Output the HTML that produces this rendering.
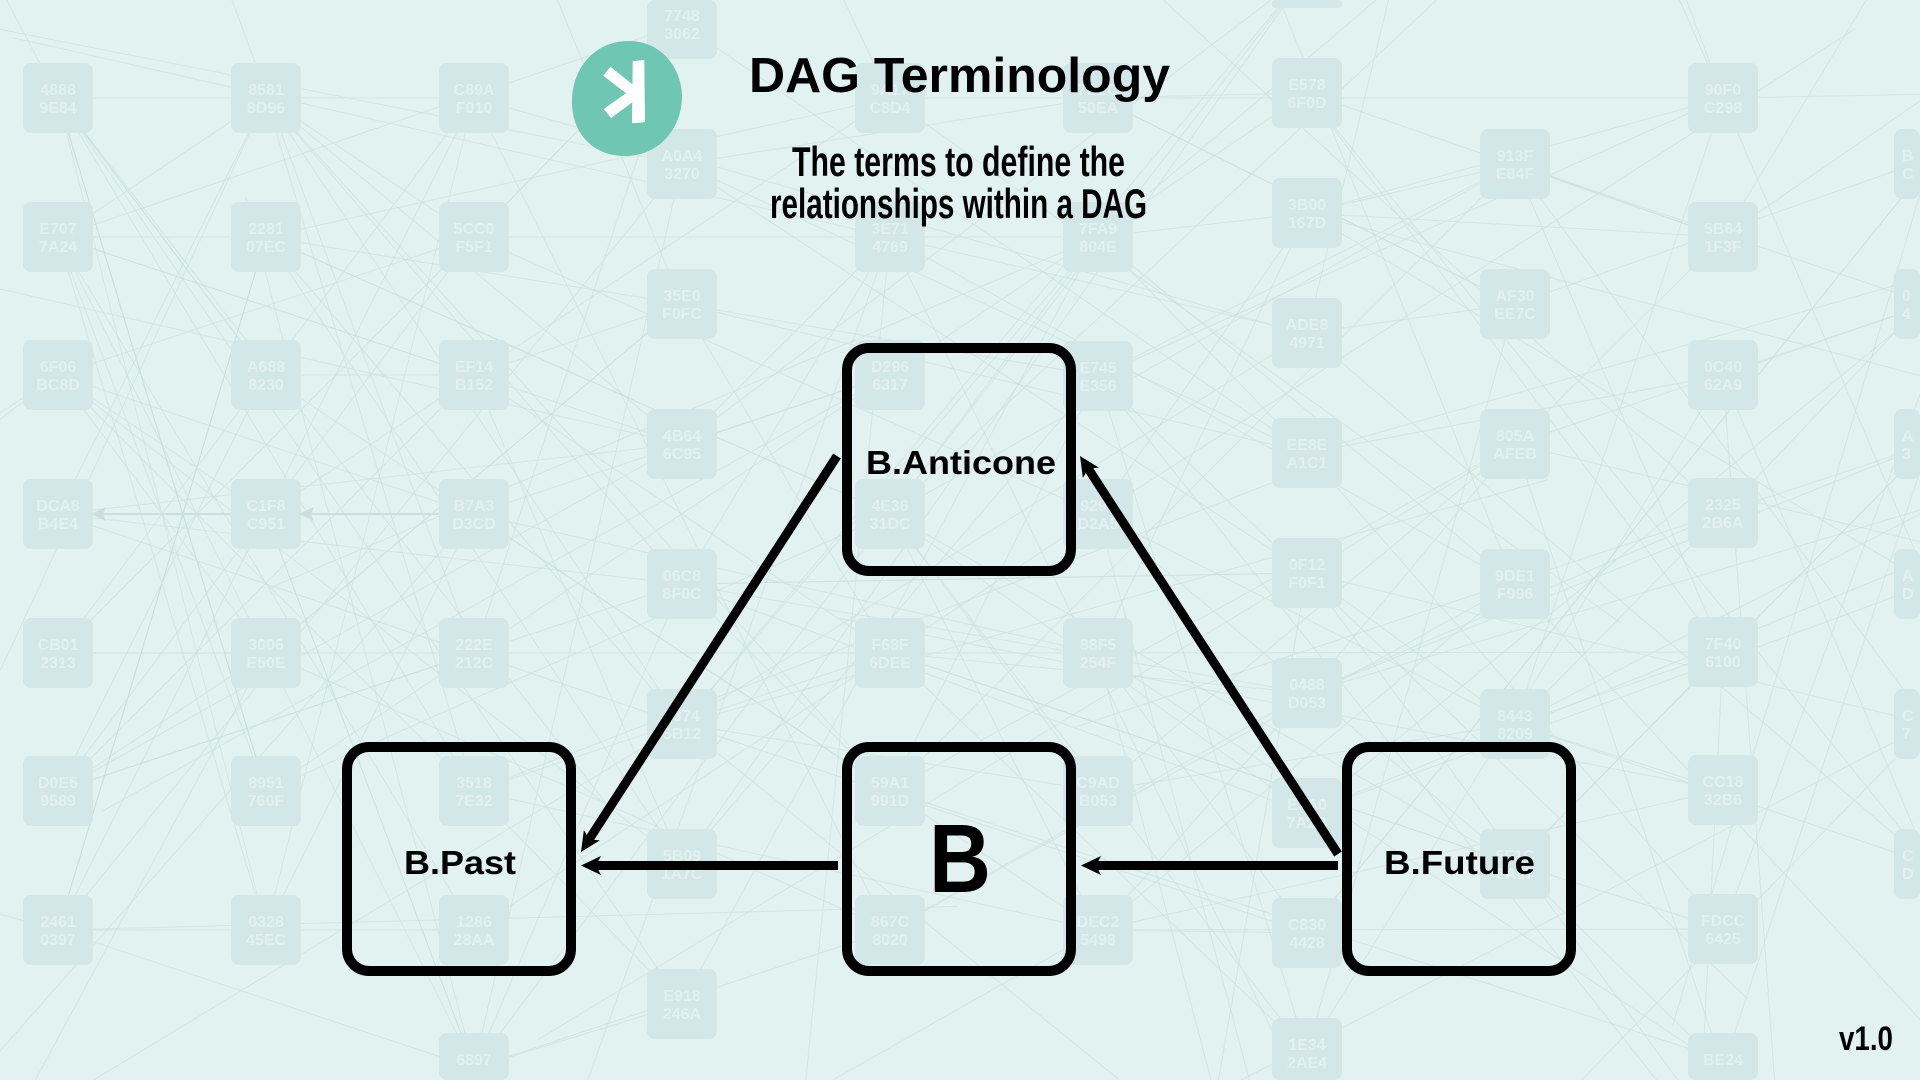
<!DOCTYPE html>
<html>
<head>
<meta charset="utf-8">
<title>DAG Terminology</title>
<style>
  html,body{margin:0;padding:0;background:#e1f2f0;width:1920px;height:1080px;overflow:hidden;}
  svg{display:block;position:absolute;left:0;top:0;}
  .n rect{fill:#d3e7e8;}
  .n text{fill:#e2f0f0;font-family:"Liberation Sans",sans-serif;font-weight:bold;font-size:16px;text-anchor:middle;}
  .lbl{font-family:"Liberation Sans",sans-serif;font-weight:bold;fill:#000;}
</style>
</head>
<body>
<svg width="1920" height="1080" viewBox="0 0 1920 1080" xmlns="http://www.w3.org/2000/svg" overflow="hidden">
  <rect width="1920" height="1080" fill="#e1f2f0"/>
  <g id="edges" stroke="#c9dedc" stroke-width="1" stroke-opacity="0.6" fill="none"></g>

  <!-- background block grid -->
  <g id="nodes">
    <!-- col 58 -->
    <g class="n" transform="translate(58,98)"><rect x="-35" y="-35" width="70" height="70" rx="8"/><text y="-3">4888</text><text y="15">9E84</text></g>
    <g class="n" transform="translate(58,237)"><rect x="-35" y="-35" width="70" height="70" rx="8"/><text y="-3">E707</text><text y="15">7A24</text></g>
    <g class="n" transform="translate(58,375)"><rect x="-35" y="-35" width="70" height="70" rx="8"/><text y="-3">6F06</text><text y="15">BC8D</text></g>
    <g class="n" transform="translate(58,514)"><rect x="-35" y="-35" width="70" height="70" rx="8"/><text y="-3">DCA8</text><text y="15">B4E4</text></g>
    <g class="n" transform="translate(58,653)"><rect x="-35" y="-35" width="70" height="70" rx="8"/><text y="-3">CB01</text><text y="15">2313</text></g>
    <g class="n" transform="translate(58,791)"><rect x="-35" y="-35" width="70" height="70" rx="8"/><text y="-3">D0E5</text><text y="15">9589</text></g>
    <g class="n" transform="translate(58,930)"><rect x="-35" y="-35" width="70" height="70" rx="8"/><text y="-3">2461</text><text y="15">0397</text></g>
    <!-- col 266 -->
    <g class="n" transform="translate(266,98)"><rect x="-35" y="-35" width="70" height="70" rx="8"/><text y="-3">8581</text><text y="15">8D96</text></g>
    <g class="n" transform="translate(266,237)"><rect x="-35" y="-35" width="70" height="70" rx="8"/><text y="-3">2281</text><text y="15">07EC</text></g>
    <g class="n" transform="translate(266,375)"><rect x="-35" y="-35" width="70" height="70" rx="8"/><text y="-3">A688</text><text y="15">8230</text></g>
    <g class="n" transform="translate(266,514)"><rect x="-35" y="-35" width="70" height="70" rx="8"/><text y="-3">C1F8</text><text y="15">C951</text></g>
    <g class="n" transform="translate(266,653)"><rect x="-35" y="-35" width="70" height="70" rx="8"/><text y="-3">3006</text><text y="15">E50E</text></g>
    <g class="n" transform="translate(266,791)"><rect x="-35" y="-35" width="70" height="70" rx="8"/><text y="-3">8951</text><text y="15">760F</text></g>
    <g class="n" transform="translate(266,930)"><rect x="-35" y="-35" width="70" height="70" rx="8"/><text y="-3">0328</text><text y="15">45EC</text></g>
    <!-- col 474 -->
    <g class="n" transform="translate(474,98)"><rect x="-35" y="-35" width="70" height="70" rx="8"/><text y="-3">C89A</text><text y="15">F010</text></g>
    <g class="n" transform="translate(474,237)"><rect x="-35" y="-35" width="70" height="70" rx="8"/><text y="-3">5CC0</text><text y="15">F5F1</text></g>
    <g class="n" transform="translate(474,375)"><rect x="-35" y="-35" width="70" height="70" rx="8"/><text y="-3">EF14</text><text y="15">B152</text></g>
    <g class="n" transform="translate(474,514)"><rect x="-35" y="-35" width="70" height="70" rx="8"/><text y="-3">B7A3</text><text y="15">D3CD</text></g>
    <g class="n" transform="translate(474,653)"><rect x="-35" y="-35" width="70" height="70" rx="8"/><text y="-3">222E</text><text y="15">212C</text></g>
    <g class="n" transform="translate(474,791)"><rect x="-35" y="-35" width="70" height="70" rx="8"/><text y="-3">3518</text><text y="15">7E32</text></g>
    <g class="n" transform="translate(474,930)"><rect x="-35" y="-35" width="70" height="70" rx="8"/><text y="-3">1286</text><text y="15">28AA</text></g>
    <g class="n" transform="translate(474,1068)"><rect x="-35" y="-35" width="70" height="47" rx="8"/><text y="-3">6897</text></g>
    <!-- col 682 -->
    <g class="n" transform="translate(682,24)"><rect x="-35" y="-24" width="70" height="59" rx="8"/><text y="-3">7748</text><text y="15">3062</text></g>
    <g class="n" transform="translate(682,164)"><rect x="-35" y="-35" width="70" height="70" rx="8"/><text y="-3">A0A4</text><text y="15">3270</text></g>
    <g class="n" transform="translate(682,304)"><rect x="-35" y="-35" width="70" height="70" rx="8"/><text y="-3">35E0</text><text y="15">F0FC</text></g>
    <g class="n" transform="translate(682,444)"><rect x="-35" y="-35" width="70" height="70" rx="8"/><text y="-3">4B64</text><text y="15">6C95</text></g>
    <g class="n" transform="translate(682,584)"><rect x="-35" y="-35" width="70" height="70" rx="8"/><text y="-3">06C8</text><text y="15">8F0C</text></g>
    <g class="n" transform="translate(682,724)"><rect x="-35" y="-35" width="70" height="70" rx="8"/><text y="-3">5374</text><text y="15">5B12</text></g>
    <g class="n" transform="translate(682,864)"><rect x="-35" y="-35" width="70" height="70" rx="8"/><text y="-3">5B09</text><text y="15">1A7C</text></g>
    <g class="n" transform="translate(682,1004)"><rect x="-35" y="-35" width="70" height="70" rx="8"/><text y="-3">E918</text><text y="15">246A</text></g>
    <!-- col 890 -->
    <g class="n" transform="translate(890,98)"><rect x="-35" y="-35" width="70" height="70" rx="8"/><text y="-3">9A17</text><text y="15">C8D4</text></g>
    <g class="n" transform="translate(890,237)"><rect x="-35" y="-35" width="70" height="70" rx="8"/><text y="-3">3E71</text><text y="15">4769</text></g>
    <g class="n" transform="translate(890,375)"><rect x="-35" y="-35" width="70" height="70" rx="8"/><text y="-3">D296</text><text y="15">6317</text></g>
    <g class="n" transform="translate(890,514)"><rect x="-35" y="-35" width="70" height="70" rx="8"/><text y="-3">4E36</text><text y="15">31DC</text></g>
    <g class="n" transform="translate(890,653)"><rect x="-35" y="-35" width="70" height="70" rx="8"/><text y="-3">F68F</text><text y="15">6DEE</text></g>
    <g class="n" transform="translate(890,791)"><rect x="-35" y="-35" width="70" height="70" rx="8"/><text y="-3">59A1</text><text y="15">991D</text></g>
    <g class="n" transform="translate(890,930)"><rect x="-35" y="-35" width="70" height="70" rx="8"/><text y="-3">867C</text><text y="15">8020</text></g>
    <!-- col 1098 -->
    <g class="n" transform="translate(1098,98)"><rect x="-35" y="-35" width="70" height="70" rx="8"/><text y="-3">7B2C</text><text y="15">50EA</text></g>
    <g class="n" transform="translate(1098,237)"><rect x="-35" y="-35" width="70" height="70" rx="8"/><text y="-3">7FA9</text><text y="15">804E</text></g>
    <g class="n" transform="translate(1098,376)"><rect x="-35" y="-35" width="70" height="70" rx="8"/><text y="-3">E745</text><text y="15">E356</text></g>
    <g class="n" transform="translate(1098,514)"><rect x="-35" y="-35" width="70" height="70" rx="8"/><text y="-3">9294</text><text y="15">D2A5</text></g>
    <g class="n" transform="translate(1098,653)"><rect x="-35" y="-35" width="70" height="70" rx="8"/><text y="-3">88F5</text><text y="15">254F</text></g>
    <g class="n" transform="translate(1098,791)"><rect x="-35" y="-35" width="70" height="70" rx="8"/><text y="-3">C9AD</text><text y="15">B053</text></g>
    <g class="n" transform="translate(1098,930)"><rect x="-35" y="-35" width="70" height="70" rx="8"/><text y="-3">DEC2</text><text y="15">5498</text></g>
    <!-- col 1307 -->
    <g class="n" transform="translate(1307,-27)"><rect x="-35" y="27" width="70" height="8" rx="3"/></g>
    <g class="n" transform="translate(1307,93)"><rect x="-35" y="-35" width="70" height="70" rx="8"/><text y="-3">E578</text><text y="15">6F0D</text></g>
    <g class="n" transform="translate(1307,213)"><rect x="-35" y="-35" width="70" height="70" rx="8"/><text y="-3">3B00</text><text y="15">167D</text></g>
    <g class="n" transform="translate(1307,333)"><rect x="-35" y="-35" width="70" height="70" rx="8"/><text y="-3">ADE8</text><text y="15">4971</text></g>
    <g class="n" transform="translate(1307,453)"><rect x="-35" y="-35" width="70" height="70" rx="8"/><text y="-3">EE8E</text><text y="15">A1C1</text></g>
    <g class="n" transform="translate(1307,573)"><rect x="-35" y="-35" width="70" height="70" rx="8"/><text y="-3">0F12</text><text y="15">F0F1</text></g>
    <g class="n" transform="translate(1307,693)"><rect x="-35" y="-35" width="70" height="70" rx="8"/><text y="-3">0488</text><text y="15">D053</text></g>
    <g class="n" transform="translate(1307,813)"><rect x="-35" y="-35" width="70" height="70" rx="8"/><text y="-3">E7A0</text><text y="15">7A2B</text></g>
    <g class="n" transform="translate(1307,933)"><rect x="-35" y="-35" width="70" height="70" rx="8"/><text y="-3">C830</text><text y="15">4428</text></g>
    <g class="n" transform="translate(1307,1053)"><rect x="-35" y="-35" width="70" height="62" rx="8"/><text y="-3">1E34</text><text y="15">2AE4</text></g>
    <!-- col 1515 -->
    <g class="n" transform="translate(1515,164)"><rect x="-35" y="-35" width="70" height="70" rx="8"/><text y="-3">913F</text><text y="15">E84F</text></g>
    <g class="n" transform="translate(1515,304)"><rect x="-35" y="-35" width="70" height="70" rx="8"/><text y="-3">AF30</text><text y="15">EE7C</text></g>
    <g class="n" transform="translate(1515,444)"><rect x="-35" y="-35" width="70" height="70" rx="8"/><text y="-3">805A</text><text y="15">AFEB</text></g>
    <g class="n" transform="translate(1515,584)"><rect x="-35" y="-35" width="70" height="70" rx="8"/><text y="-3">9DE1</text><text y="15">F996</text></g>
    <g class="n" transform="translate(1515,724)"><rect x="-35" y="-35" width="70" height="70" rx="8"/><text y="-3">8443</text><text y="15">8209</text></g>
    <g class="n" transform="translate(1515,864)"><rect x="-35" y="-35" width="70" height="70" rx="8"/><text y="-3">5F1C</text><text y="15">3A07</text></g>
    <!-- col 1723 -->
    <g class="n" transform="translate(1723,98)"><rect x="-35" y="-35" width="70" height="70" rx="8"/><text y="-3">90F0</text><text y="15">C298</text></g>
    <g class="n" transform="translate(1723,237)"><rect x="-35" y="-35" width="70" height="70" rx="8"/><text y="-3">5B64</text><text y="15">1F3F</text></g>
    <g class="n" transform="translate(1723,375)"><rect x="-35" y="-35" width="70" height="70" rx="8"/><text y="-3">0C40</text><text y="15">62A9</text></g>
    <g class="n" transform="translate(1723,513)"><rect x="-35" y="-35" width="70" height="70" rx="8"/><text y="-3">2325</text><text y="15">2B6A</text></g>
    <g class="n" transform="translate(1723,652)"><rect x="-35" y="-35" width="70" height="70" rx="8"/><text y="-3">7F40</text><text y="15">6100</text></g>
    <g class="n" transform="translate(1723,790)"><rect x="-35" y="-35" width="70" height="70" rx="8"/><text y="-3">CC18</text><text y="15">32B6</text></g>
    <g class="n" transform="translate(1723,929)"><rect x="-35" y="-35" width="70" height="70" rx="8"/><text y="-3">FDCC</text><text y="15">6425</text></g>
    <g class="n" transform="translate(1723,1068)"><rect x="-35" y="-35" width="70" height="47" rx="8"/><text y="-3">BE24</text></g>
    <!-- col 1929 (partial, clipped at right edge) -->
    <g class="n" transform="translate(1929,164)"><rect x="-35" y="-35" width="26" height="70" rx="8"/><text x="-27" y="-3" style="text-anchor:start">B</text><text x="-27" y="15" style="text-anchor:start">C</text></g>
    <g class="n" transform="translate(1929,304)"><rect x="-35" y="-35" width="26" height="70" rx="8"/><text x="-27" y="-3" style="text-anchor:start">0</text><text x="-27" y="15" style="text-anchor:start">4</text></g>
    <g class="n" transform="translate(1929,444)"><rect x="-35" y="-35" width="26" height="70" rx="8"/><text x="-27" y="-3" style="text-anchor:start">A</text><text x="-27" y="15" style="text-anchor:start">3</text></g>
    <g class="n" transform="translate(1929,584)"><rect x="-35" y="-35" width="26" height="70" rx="8"/><text x="-27" y="-3" style="text-anchor:start">A</text><text x="-27" y="15" style="text-anchor:start">D</text></g>
    <g class="n" transform="translate(1929,724)"><rect x="-35" y="-35" width="26" height="70" rx="8"/><text x="-27" y="-3" style="text-anchor:start">C</text><text x="-27" y="15" style="text-anchor:start">7</text></g>
    <g class="n" transform="translate(1929,864)"><rect x="-35" y="-35" width="26" height="70" rx="8"/><text x="-27" y="-3" style="text-anchor:start">C</text><text x="-27" y="15" style="text-anchor:start">D</text></g>
  </g>

  <!-- background faint arrows -->
  <g stroke="#cadfdd" stroke-width="2" fill="#cadfdd">
    <line x1="231" y1="514" x2="100" y2="514"/>
    <path d="M93,514 L104,509 L102,514 L104,519 Z"/>
    <line x1="439" y1="514" x2="308" y2="514"/>
    <path d="M301,514 L312,509 L310,514 L312,519 Z"/>
  </g>

  <!-- Logo -->
  <g transform="translate(1,-6)">
    <path d="M626,47 C663,46 682,78 681,104 C680,136 657,162 624,162 C591,162 570,138 571,106 C572,74 593,48 626,47 Z" fill="#6fc6b3"/>
    <polygon points="631.7,67.3 643.3,66 644,128.3 631,129.3" fill="#ffffff"/>
    <polygon points="609.3,72.7 637.3,95 637.3,104 610,124 602.7,115 625,99.3 602.3,81.7" fill="#ffffff"/>
  </g>

  <!-- Title -->
  <text class="lbl" x="749" y="92" font-size="49" textLength="421" lengthAdjust="spacingAndGlyphs">DAG Terminology</text>
  <text class="lbl" x="792" y="176" font-size="42" textLength="333" lengthAdjust="spacingAndGlyphs">The terms to define the</text>
  <text class="lbl" x="770" y="218" font-size="42" textLength="377" lengthAdjust="spacingAndGlyphs">relationships within a DAG</text>

  <!-- Main boxes -->
  <g fill="none" stroke="#000" stroke-width="10">
    <rect x="847" y="348" width="224" height="223" rx="22"/>
    <rect x="347" y="747" width="224" height="224" rx="22"/>
    <rect x="847" y="747" width="224" height="224" rx="22"/>
    <rect x="1347" y="747" width="224" height="224" rx="22"/>
  </g>

  <!-- Box labels -->
  <text class="lbl" x="866" y="474" font-size="33" textLength="190" lengthAdjust="spacingAndGlyphs">B.Anticone</text>
  <text class="lbl" x="404" y="874" font-size="33" textLength="112" lengthAdjust="spacingAndGlyphs">B.Past</text>
  <text class="lbl" x="929" y="892" font-size="97" textLength="62" lengthAdjust="spacingAndGlyphs">B</text>
  <text class="lbl" x="1384" y="874" font-size="33" textLength="151" lengthAdjust="spacingAndGlyphs">B.Future</text>

  <!-- Arrows -->
  <g stroke="#000" stroke-width="9" fill="none" stroke-linecap="butt">
    <line x1="838" y1="865.5" x2="595" y2="865.5"/>
    <line x1="1338" y1="865.5" x2="1095" y2="865.5"/>
    <line x1="837" y1="456" x2="588.6" y2="840.2"/>
    <line x1="1338" y1="854" x2="1087.6" y2="467.7"/>
  </g>
  <g fill="#000">
    <path transform="translate(581,865.5) rotate(180)" d="M0,0 L-20,-9.5 L-15,0 L-20,9.5 Z"/>
    <path transform="translate(1081,865.5) rotate(180)" d="M0,0 L-20,-9.5 L-15,0 L-20,9.5 Z"/>
    <path transform="translate(581,852) rotate(122.9)" d="M0,0 L-20,-9.5 L-15,0 L-20,9.5 Z"/>
    <path transform="translate(1080,456) rotate(-122.96)" d="M0,0 L-20,-9.5 L-15,0 L-20,9.5 Z"/>
  </g>

  <!-- version -->
  <text class="lbl" x="1839" y="1050" font-size="34" textLength="54" lengthAdjust="spacingAndGlyphs">v1.0</text>
</svg>
<script>
(function(){
  var s=424242;
  function r(){ s=(s*16807)%2147483647; return s/2147483647; }
  var W=1920,H=1080;
  function clip(x1,y1,x2,y2){
    var dx=x2-x1, dy=y2-y1, t0=0, t1=1;
    var p=[-dx,dx,-dy,dy], q=[x1-0,W-x1,y1-0,H-y1];
    for(var i=0;i<4;i++){
      if(p[i]===0){ if(q[i]<0) return null; }
      else{
        var t=q[i]/p[i];
        if(p[i]<0){ if(t>t1) return null; if(t>t0) t0=t; }
        else { if(t<t0) return null; if(t<t1) t1=t; }
      }
    }
    return [x1+t0*dx, y1+t0*dy, x1+t1*dx, y1+t1*dy];
  }
  function ln(a,b,c,d){
    var k=clip(a,b,c,d); if(!k) return '';
    return '<line x1="'+k[0].toFixed(1)+'" y1="'+k[1].toFixed(1)+'" x2="'+k[2].toFixed(1)+'" y2="'+k[3].toFixed(1)+'"/>';
  }
  var gs=document.querySelectorAll('#nodes .n');
  var ns=[];
  for(var i=0;i<gs.length;i++){
    var m=gs[i].transform.baseVal.getItem(0).matrix;
    ns.push([m.e,m.f]);
  }
  var cols={};
  ns.forEach(function(p){ (cols[p[0]]=cols[p[0]]||[]).push(p); });
  var xs=Object.keys(cols).map(Number).sort(function(a,b){return a-b;});
  var out='';
  xs.forEach(function(x,ci){
    if(ci===0) return;
    cols[x].forEach(function(p){
      var k=2+Math.floor(r()*3);
      for(var j=0;j<k;j++){
        var cj=Math.max(0,ci-1-Math.floor(r()*3));
        var tc=cols[xs[cj]];
        var t=tc[Math.floor(r()*tc.length)];
        out+=ln(p[0],p[1],t[0],t[1]);
      }
    });
  });
  for(var q=0;q<70;q++){
    var a=ns[Math.floor(r()*ns.length)];
    var ang=r()*Math.PI*2;
    out+=ln(a[0],a[1],a[0]+Math.cos(ang)*900,a[1]+Math.sin(ang)*900);
  }
  document.getElementById('edges').innerHTML=out;
})();
</script>
</body>
</html>
